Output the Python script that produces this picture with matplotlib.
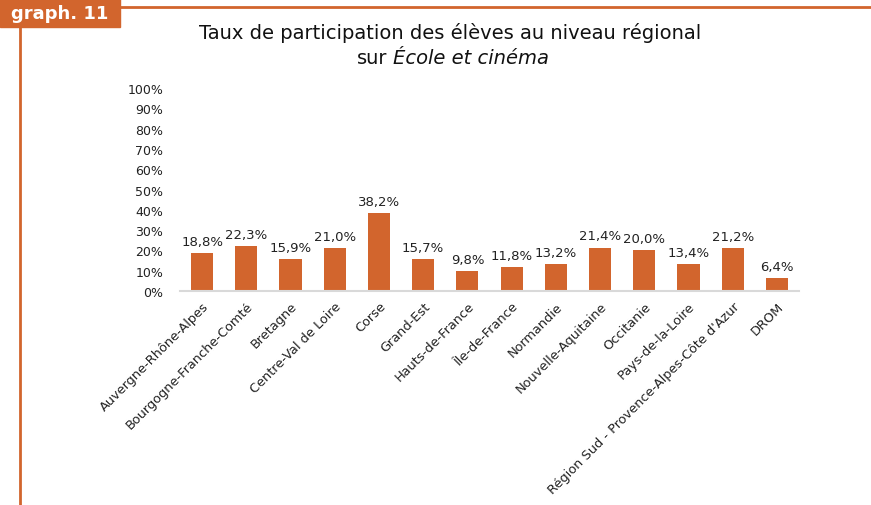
import matplotlib.pyplot as plt
from matplotlib.patches import Rectangle
from matplotlib.lines import Line2D

# Data
regions = ["Auvergne-Rhône-Alpes", "Bourgogne-Franche-Comté", "Bretagne",
           "Centre-Val de Loire", "Corse", "Grand-Est", "Hauts-de-France",
           "Île-de-France", "Normandie", "Nouvelle-Aquitaine", "Occitanie",
           "Pays-de-la-Loire", "Région Sud - Provence-Alpes-Côte d'Azur", "DROM"]
rates = [18.8, 22.3, 15.9, 21.0, 38.2, 15.7, 9.8, 11.8, 13.2, 21.4, 20.0, 13.4, 21.2, 6.4]
yticks = [0, 10, 20, 30, 40, 50, 60, 70, 80, 90, 100]

ORANGE = "#D2652D"
TXT = "#222222"
plt.rcParams['font.family'] = ['DejaVu Sans']

fig = plt.figure(figsize=(8.71, 5.06), dpi=100)

# Frame decoration
fig.patches.append(Rectangle((0, 1 - 28 / 506), 120 / 871, 28 / 506,
                             transform=fig.transFigure, color=ORANGE, zorder=0))
fig.text(60 / 871, 1 - 14 / 506, "graph. 11", color="white", fontsize=13,
         fontweight="bold", ha="center", va="center")
fig.lines.append(Line2D([120 / 871, 1], [1 - 8 / 506, 1 - 8 / 506],
                        transform=fig.transFigure, color=ORANGE, lw=2))
fig.lines.append(Line2D([20 / 871, 20 / 871], [0, 1 - 28 / 506],
                        transform=fig.transFigure, color=ORANGE, lw=2))

# Title
fig.text(450 / 871, 1 - 33 / 506, "Taux de participation des élèves au niveau régional",
         ha="center", va="center", fontsize=14, color="#111111")
fig.text(387 / 871, 1 - 58 / 506, "sur", ha="right", va="center",
         fontsize=14, color="#111111")
fig.text(393 / 871, 1 - 58 / 506, "École et cinéma", ha="left", va="center",
         fontsize=14, fontstyle="italic", color="#111111")

ax = fig.add_axes([180 / 871, 1 - 292 / 506, 619 / 871, 203 / 506])
x = list(range(len(regions)))
ax.bar(x, rates, width=0.5, color=ORANGE)
for xi, v in zip(x, rates):
    ax.text(xi, v + 2.5, f"{v:.1f}%".replace(".", ","), ha="center", va="bottom",
            fontsize=9.5, color=TXT)

ax.set_xlim(-0.5, len(regions) - 0.5)
ax.set_ylim(0, 100)
ax.set_yticks(yticks)
ax.set_yticklabels([f"{t}%" for t in yticks], fontsize=9, color=TXT)
ax.set_xticks(x)
ax.set_xticklabels(regions, rotation=45, ha="right", rotation_mode="anchor",
                   fontsize=9.3, color=TXT)
ax.tick_params(axis="y", length=0, pad=12)
ax.tick_params(axis="x", length=0, pad=6)
for s in ["top", "right", "left"]:
    ax.spines[s].set_visible(False)
ax.spines["bottom"].set_color("#d9d9d9")
ax.spines["bottom"].set_linewidth(1.5)

fig.savefig("out.png", dpi=100)
